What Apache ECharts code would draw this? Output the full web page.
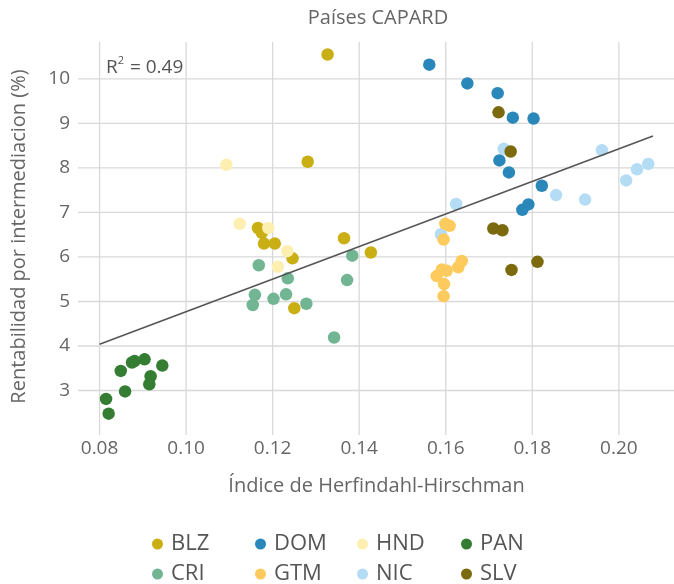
<!DOCTYPE html>
<html>
<head>
<meta charset="utf-8">
<script src="https://cdn.jsdelivr.net/npm/echarts@6/dist/echarts.min.js"></script>
<style>html,body{margin:0;padding:0;background:#fff}#c{width:674px;height:584px}</style>
</head>
<body>
<div id="c"></div>
<script>
const countries = ['BLZ','CRI','DOM','GTM','HND','NIC','PAN','SLV'];
const legendRow1 = ['BLZ','DOM','HND','PAN'];
const legendRow2 = ['CRI','GTM','NIC','SLV'];
const colors = {BLZ:'#c9ae14', CRI:'#72b593', DOM:'#2a87b9', GTM:'#fdcb5d', HND:'#fcefb0', NIC:'#b4ddf5', PAN:'#347d33', SLV:'#7c6a0e'};

const blzX = [0.1327,0.1281,0.1166,0.1175,0.1180,0.1205,0.1246,0.1250,0.1365,0.1427];
const blzY = [10.55,8.14,6.65,6.54,6.30,6.30,5.97,4.85,6.42,6.10];
const domX = [0.1562,0.1650,0.1720,0.1755,0.1803,0.1724,0.1746,0.1822,0.1791,0.1777];
const domY = [10.32,9.90,9.68,9.13,9.11,8.17,7.90,7.60,7.18,7.06];
const hndX = [0.1093,0.1124,0.1190,0.1234,0.1212];
const hndY = [8.07,6.745,6.65,6.13,5.78];
const panX = [0.0815,0.0821,0.0849,0.0859,0.0875,0.0881,0.0904,0.0918,0.0915,0.0945];
const panY = [2.81,2.48,3.44,2.98,3.63,3.66,3.70,3.32,3.14,3.56];
const criX = [0.1168,0.1235,0.1159,0.1154,0.1202,0.1231,0.1278,0.1342,0.1384,0.1372];
const criY = [5.815,5.52,5.15,4.92,5.06,5.16,4.95,4.19,6.03,5.48];
const gtmX = [0.1599,0.1609,0.1595,0.1637,0.1629,0.1591,0.1602,0.1579,0.1596,0.1595];
const gtmY = [6.745,6.70,6.39,5.91,5.77,5.72,5.69,5.57,5.39,5.12];
const nicX = [0.1734,0.1961,0.2068,0.2042,0.2017,0.1855,0.1922,0.1624,0.1589];
const nicY = [8.43,8.40,8.09,7.97,7.72,7.39,7.29,7.19,6.51];
const slvX = [0.1722,0.1750,0.1710,0.1731,0.1752,0.1812];
const slvY = [9.25,8.37,6.64,6.60,5.71,5.89];

const fitX = [0.0800, 0.2079];
const fitY = [4.04, 8.72];
const r2Label = '0.49';

const xTicks = [0.08,0.10,0.12,0.14,0.16,0.18,0.20];
const yTicks = [3,4,5,6,7,8,9,10];

const seriesData = {
  BLZ:[blzX,blzY], CRI:[criX,criY], DOM:[domX,domY], GTM:[gtmX,gtmY],
  HND:[hndX,hndY], NIC:[nicX,nicY], PAN:[panX,panY], SLV:[slvX,slvY]
};
const zip = (xs, ys) => xs.map((x,i)=>[x, ys[i]]);

const FONT = '"Open Sans", "Noto Sans", sans-serif';
const TXT = '#666666';
const GRID = '#d9d9d9';

const X_MIN = 0.07525, X_MAX = 0.21275, Y_MIN = 2.09, Y_MAX = 10.83;
// tick marks: gridlines extend slightly outside the panel
const X_TICK_END = 0.07430, Y_TICK_END = 2.0;

const series = [];
xTicks.forEach(v => series.push({
  type: 'line', data: [[v, Y_TICK_END], [v, Y_MAX]], symbol: 'none', clip: false,
  silent: true, z: 0, lineStyle: {color: GRID, width: 1.3}
}));
yTicks.forEach(v => series.push({
  type: 'line', data: [[X_TICK_END, v], [X_MAX, v]], symbol: 'none', clip: false,
  silent: true, z: 0, lineStyle: {color: GRID, width: 1.3}
}));
const drawOrder = ['NIC','CRI','BLZ','HND','DOM','GTM','SLV','PAN'];
drawOrder.forEach(c => series.push({
  name: c, type: 'scatter', symbol: 'circle', symbolSize: 12.5,
  itemStyle: {color: colors[c], opacity: 1},
  data: zip(seriesData[c][0], seriesData[c][1]),
  z: 2
}));
series.push({
  name: 'fit', type: 'line', data: zip(fitX, fitY), symbol: 'none',
  lineStyle: {color: '#555555', width: 1.6}, z: 3, silent: true
});

const legendPos = {
  BLZ:[147,528], DOM:[250,528], HND:[352,528], PAN:[456,528],
  CRI:[147,558], GTM:[250,558], NIC:[352,558], SLV:[456,558]
};
const legends = countries.map(c => ({
  orient: 'horizontal', icon: 'circle', itemWidth: 11, itemHeight: 11,
  selectedMode: false, data: [c], left: legendPos[c][0], top: legendPos[c][1],
  textStyle: {fontFamily: FONT, fontSize: 22, color: '#555', padding: [0,0,0,3]}
}));

const chart = echarts.init(document.getElementById('c'), null, {renderer: 'canvas'});
chart.setOption({
  animation: false,
  color: countries.map(c => colors[c]),
  title: {
    text: 'Países CAPARD', left: 373, top: 3, textAlign: 'center',
    textStyle: {fontFamily: FONT, fontSize: 20, fontWeight: 'normal', color: TXT}
  },
  legend: legends,
  grid: {show: false, left: 79, right: 0, top: 42, bottom: 153, containLabel: false},
  xAxis: {
    type: 'value', min: X_MIN, max: X_MAX,
    name: 'Índice de Herfindahl-Hirschman', nameLocation: 'middle', nameGap: 45,
    nameTextStyle: {fontFamily: FONT, fontSize: 20, color: TXT},
    axisLine: {show: false},
    axisTick: {show: false},
    axisLabel: {fontFamily: FONT, fontSize: 19, color: TXT, margin: 8, customValues: xTicks,
      formatter: v => v.toFixed(2)},
    splitLine: {show: false}
  },
  yAxis: {
    type: 'value', min: Y_MIN, max: Y_MAX,
    name: 'Rentabilidad por intermediacion (%)', nameLocation: 'middle', nameGap: 50,
    nameTextStyle: {fontFamily: FONT, fontSize: 20, color: TXT},
    axisLine: {show: false},
    axisTick: {show: false},
    axisLabel: {fontFamily: FONT, fontSize: 19, color: TXT, margin: 9, customValues: yTicks},
    splitLine: {show: false}
  },
  graphic: [{
    type: 'text', left: 106, top: 55, z: 10,
    style: {
      text: '{a|R}{s|2}{a| = ' + r2Label + '}',
      rich: {
        a: {fontFamily: FONT, fontSize: 19, fill: '#555', verticalAlign: 'bottom', lineHeight: 22},
        s: {fontFamily: FONT, fontSize: 11, fill: '#555', verticalAlign: 'top', lineHeight: 12, padding:[0,1,9,0]}
      }
    }
  }],
  series: series
});
</script>
</body>
</html>
